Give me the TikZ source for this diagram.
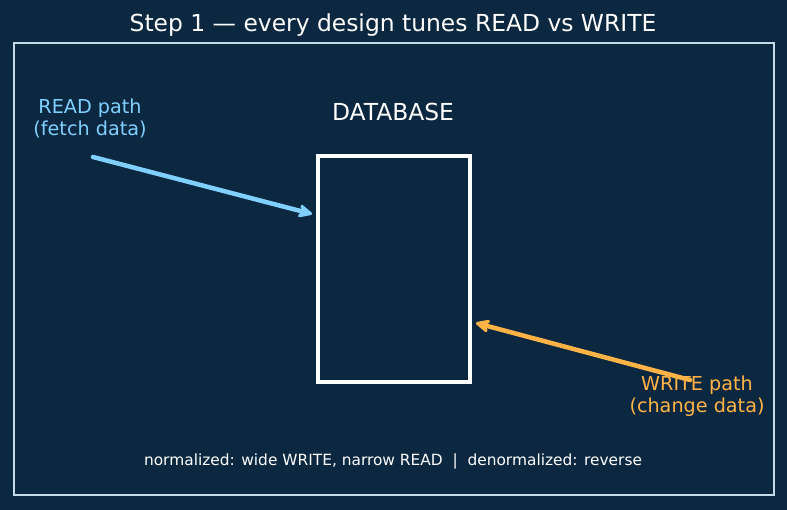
\documentclass[tikz,border=0pt]{standalone}
\usepackage{fontspec}
\setmainfont{DejaVu Sans}
\usetikzlibrary{arrows.meta}
\definecolor{bgnavy}{HTML}{0C2840}
\definecolor{framegrey}{HTML}{C4DAE8}
\definecolor{readblue}{HTML}{80D0FF}
\definecolor{writeorange}{HTML}{FFB347}
\begin{document}
\begin{tikzpicture}[x=1pt, y=-1pt,
    flow/.style={line width=4.5pt, line cap=round, -{Stealth[length=18pt,width=17pt,inset=6pt,line join=round]}}]
    \fill [bgnavy] (0,0) rectangle (787,510);
    \useasboundingbox (0,0) rectangle (787,510);
    \draw [framegrey, line width=1.6pt] (14,43) rectangle (774,495);
    \node (title) at (393,25) [text=white, font=\fontsize{23.4}{28}\selectfont] {Step 1 — every design tunes READ vs WRITE};
    \draw [white, line width=3.6pt] (318,156) rectangle (470,382);
    \node (db) at (394,269) [minimum width=152pt, minimum height=226pt] {};
    \node (dblabel) at (393,112) [text=white, font=\fontsize{23.4}{28}\selectfont] {DATABASE};
    \node (read) at (90,118) [text=readblue, align=center, font=\fontsize{19.2}{22}\selectfont] {READ path\\(fetch data)};
    \node (write) at (697,396) [text=writeorange, align=center, font=\fontsize{19.2}{22}\selectfont] {WRITE path\\(change data)};
    \coordinate (readstart) at (93,157);
    \coordinate (readend) at (312,214);
    \coordinate (writestart) at (690,380);
    \coordinate (writeend) at (476,323);
    \draw [flow, readblue] (readstart) -- (readend);
    \draw [flow, writeorange] (writestart) -- (writeend);
    \node (note) at (393,461) [text=white, font=\fontsize{15.4}{18}\selectfont] {normalized: wide WRITE, narrow READ \ | \ denormalized: reverse};
  \end{tikzpicture}
\end{document}
